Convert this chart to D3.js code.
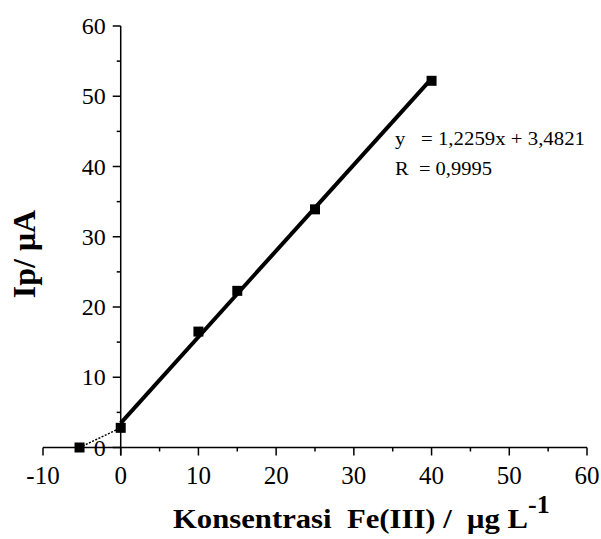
<!DOCTYPE html>
<html>
<head>
<meta charset="utf-8">
<script src="https://cdn.jsdelivr.net/npm/d3@7"></script>
<style>
  body { margin: 0; background: #fff; }
  text { font-family: "Liberation Serif", "Times New Roman", serif; white-space: pre; }
</style>
</head>
<body>
<div id="chart"></div>
<script>
// measured points (Fe(III) concentration vs peak current)
var conc = [-5.3, 0, 10, 15, 25, 40];
var current = [0, 2.8, 16.5, 22.3, 33.9, 52.2];
var slope = 1.2259, intercept = 3.4821;
var xTicks = [-10, 0, 10, 20, 30, 40, 50, 60];
var yTicks = [0, 10, 20, 30, 40, 50, 60];
var eqLines = ["y   = 1,2259x + 3,4821", "R  = 0,9995"];

var W = 601, H = 539;
var svg = d3.select("#chart").append("svg")
  .attr("width", W).attr("height", H);

var x = d3.scaleLinear().domain([-10, 60]).range([43, 587]);
var y = d3.scaleLinear().domain([0, 60]).range([447.5, 26]);

// x axis (ticks point down)
var xAxis = svg.append("g").attr("transform", "translate(0," + y(0) + ")");
xAxis.append("line").attr("x1", x(-10)).attr("x2", x(60))
  .attr("stroke", "#000").attr("stroke-width", 1.5);
d3.range(-10, 61, 5).forEach(function(v) {
  var major = v % 10 === 0;
  xAxis.append("line").attr("x1", x(v)).attr("x2", x(v))
    .attr("y1", 0).attr("y2", major ? 8 : 4)
    .attr("stroke", "#000").attr("stroke-width", 1.5);
});
xAxis.selectAll("text.tl").data(xTicks).enter().append("text")
  .attr("x", function(d) { return x(d); }).attr("y", 36)
  .attr("text-anchor", "middle").style("font-size", "25px")
  .text(function(d) { return d; });

// y axis at x = 0 (ticks point left)
var yAxis = svg.append("g").attr("transform", "translate(" + x(0) + ",0)");
yAxis.append("line").attr("y1", y(60)).attr("y2", y(0) + 8)
  .attr("stroke", "#000").attr("stroke-width", 1.5);
d3.range(0, 61, 5).forEach(function(v) {
  var major = v % 10 === 0;
  yAxis.append("line").attr("y1", y(v)).attr("y2", y(v))
    .attr("x1", 0).attr("x2", major ? -8 : -4)
    .attr("stroke", "#000").attr("stroke-width", 1.5);
});
yAxis.selectAll("text.tl").data(yTicks).enter().append("text")
  .attr("x", -15).attr("y", function(d) { return y(d); })
  .attr("dy", "0.34em")
  .attr("text-anchor", "end").style("font-size", "24px")
  .text(function(d) { return d; });

// dotted extrapolation to the x intercept
svg.append("line")
  .attr("x1", x(conc[0])).attr("y1", y(current[0]))
  .attr("x2", x(conc[1])).attr("y2", y(current[1]))
  .attr("stroke", "#000").attr("stroke-width", 1.5)
  .attr("stroke-dasharray", "2,1.5");

// regression line
svg.append("line")
  .attr("x1", x(0)).attr("y1", y(intercept))
  .attr("x2", x(40)).attr("y2", y(slope * 40 + intercept))
  .attr("stroke", "#000").attr("stroke-width", 4);

// markers
svg.selectAll("rect.pt").data(d3.range(conc.length)).enter().append("rect")
  .attr("x", function(i) { return x(conc[i]) - 5; })
  .attr("y", function(i) { return y(current[i]) - 5; })
  .attr("width", 10).attr("height", 10).attr("fill", "#000");

// equation
var eqWidths = [190, 97];
svg.selectAll("text.eq").data(eqLines).enter().append("text")
  .attr("x", 395).attr("y", function(d, i) { return 145 + i * 30; })
  .attr("textLength", function(d, i) { return eqWidths[i]; })
  .attr("lengthAdjust", "spacingAndGlyphs")
  .style("font-size", "19px")
  .text(function(d) { return d; });

// axis titles
svg.append("text")
  .attr("transform", "translate(35,254) rotate(-90)")
  .attr("text-anchor", "middle")
  .style("font-size", "32px").style("font-weight", "bold")
  .text("Ip/ μA");

var xt = svg.append("text")
  .attr("x", 173).attr("y", 528)
  .style("font-size", "28px").style("font-weight", "bold");
xt.append("tspan").attr("textLength", 355).attr("lengthAdjust", "spacingAndGlyphs")
  .text("Konsentrasi  Fe(III) /  μg L");
xt.append("tspan").attr("dy", -15).style("font-size", "26px").text("-1");
</script>
</body>
</html>
